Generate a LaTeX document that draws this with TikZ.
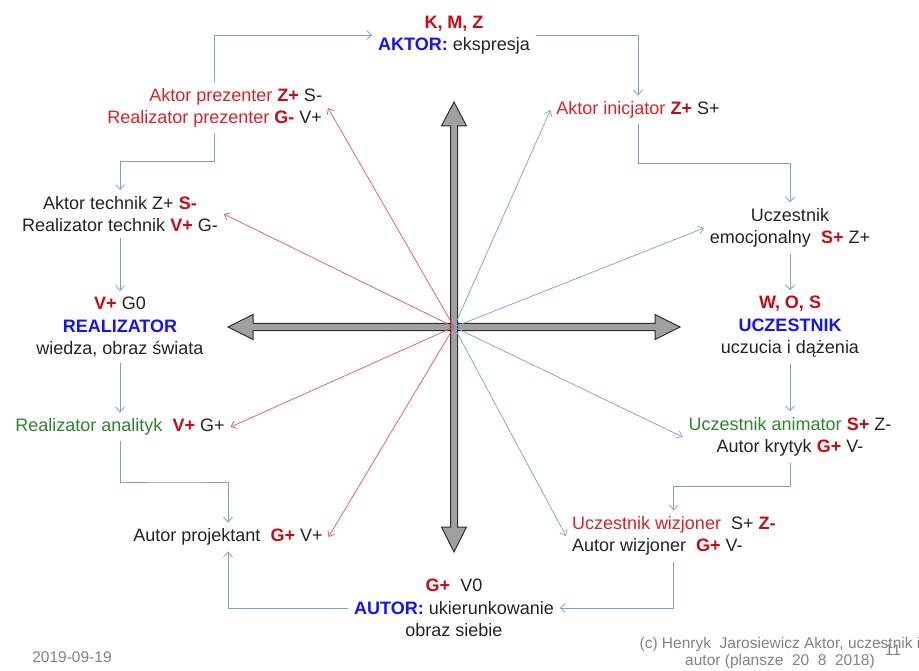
\documentclass[tikz,border=0pt]{standalone}
\usepackage{fontspec}
\setmainfont{Liberation Sans}
\usetikzlibrary{arrows.meta,calc}

\definecolor{kred}{RGB}{200,10,20}
\definecolor{lred}{RGB}{215,35,40}
\definecolor{kblue}{RGB}{20,20,245}
\definecolor{kgreen}{RGB}{45,130,45}
\definecolor{ktext}{RGB}{35,35,35}
\definecolor{kline}{RGB}{120,160,210}
\definecolor{kray}{RGB}{225,85,85}
\definecolor{kfoot}{RGB}{130,130,130}
\definecolor{kaxis}{RGB}{160,160,160}
\definecolor{kaxisedge}{RGB}{45,45,45}

% bold red marker and bold blue role name
\newcommand{\rb}[1]{\textbf{\color{kred}#1}}
\newcommand{\bb}[1]{\textbf{\color{kblue}#1}}

\begin{document}
\begin{tikzpicture}[x=1pt,y=-1pt,
  lbl/.style={font=\fontsize{18}{22.5}\selectfont, text=ktext, align=center,
              inner sep=1pt, outer sep=5pt},
  foot/.style={font=\fontsize{15.5}{17}\selectfont, text=kfoot, inner sep=0pt},
  conn/.style={draw=kline, line width=0.8pt, -{Straight Barb[length=5pt,width=9pt]}},
  zig/.style={to path={|- ($(\tikztostart)!0.5!(\tikztotarget)$) -| (\tikztotarget)}},
  rray/.style={draw=kray, line width=0.7pt, -{Straight Barb[length=5pt,width=8pt]}},
  bray/.style={draw=kline, line width=0.7pt, -{Straight Barb[length=5pt,width=8pt]}},
  axis/.style={fill=kaxis, draw=kaxisedge, line width=1pt, line join=miter}]

\useasboundingbox (0,0) rectangle (919,671);

% the cross of thick double-headed arrows
\coordinate (o) at (454,327);
\draw[axis] (228,327) -- (253,314.5) -- (253,323.5) -- (655,323.5) -- (655,314.5)
  -- (680,327) -- (655,339.5) -- (655,330.5) -- (253,330.5) -- (253,339.5) -- cycle;
\draw[axis] (454,102) -- (466.5,126) -- (457.5,126) -- (457.5,527) -- (466.5,527)
  -- (454,552) -- (441.5,527) -- (450.5,527) -- (450.5,126) -- (441.5,126) -- cycle;

% role labels
\node[lbl] (aktor) at (454,35) {\rb{K, M, Z}\\\bb{AKTOR:} ekspresja};
\node[lbl] (inicjator) at (638,110) {{\color{lred}Aktor inicjator} \rb{Z+} S+};
\node[lbl] (emocj) at (790,228) {Uczestnik\\emocjonalny\ \ \rb{S+} Z+};
\node[lbl] (uczestnik) at (790,327) {\rb{W, O, S}\\\bb{UCZESTNIK}\\uczucia i dążenia};
\node[lbl] (animator) at (790,437) {{\color{kgreen}Uczestnik animator} \rb{S+} Z-\\Autor krytyk \rb{G+} V-};
\node[lbl, anchor=west, align=left] (wizjoner) at (566,536)
  {{\color{lred}Uczestnik wizjoner}\ \ S+ \rb{Z-}\\Autor wizjoner\ \ \rb{G+} V-};
\node[lbl] (autor) at (454,608) {\rb{G+}\ \ V0\\\bb{AUTOR:} ukierunkowanie\\obraz siebie};
\node[lbl] (projektant) at (228,537) {Autor projektant\ \ \rb{G+} V+};
\node[lbl] (analityk) at (120,427) {{\color{kgreen}Realizator analityk}\ \ \rb{V+} G+};
\node[lbl] (realizator) at (120,327) {\rb{V+} G0\\\bb{REALIZATOR}\\wiedza, obraz świata};
\node[lbl] (technik) at (120,214) {Aktor technik Z+ \rb{S-}\\Realizator technik \rb{V+} G-};
\node[lbl, anchor=east, align=right] (prezenter) at (328,108)
  {{\color{lred}Aktor prezenter} \rb{Z+} S-\\{\color{lred}Realizator prezenter} \rb{G-} V+};

% the cycle of connectors
\draw[conn] (prezenter.north) |- (aktor.west);
\draw[conn] (aktor.east) -| (inicjator.north);
\draw[conn] (inicjator.south) to[zig] (emocj.north);
\draw[conn] (emocj.south) -- (uczestnik.north);
\draw[conn] (uczestnik.south) -- (animator.north);
\draw[conn] (animator.south) to[zig] (wizjoner.north);
\draw[conn] (wizjoner.south) |- (autor.east);
\draw[conn] (autor.west) -| (projektant.south);
\draw[conn] (analityk.south) to[zig] (projektant.north);
\draw[conn] (realizator.south) -- (analityk.north);
\draw[conn] (technik.south) -- (realizator.north);
\draw[conn] (prezenter.south) to[zig] (technik.north);

% rays from the centre
\draw[rray] (o) -- (prezenter.east);
\draw[rray] (o) -- (technik.east);
\draw[rray] (o) -- (analityk.east);
\draw[rray] (o) -- (projektant.east);
\draw[bray] (o) -- (inicjator.west);
\draw[bray] (o) -- (emocj.west);
\draw[bray] (o) -- (animator.west);
\draw[bray] (o) -- (wizjoner.west);

% footer
\node[foot] (date) at (72,657) {2019-09-19};
\node[foot, align=center] (copy) at (780,653)
  {(c) Henryk\ \ Jarosiewicz Aktor, uczestnik i\\autor (plansze\ \ 20\ \ 8\ \ 2018)};
\node[foot] (page) at (893,650) {11};
\end{tikzpicture}
\end{document}
